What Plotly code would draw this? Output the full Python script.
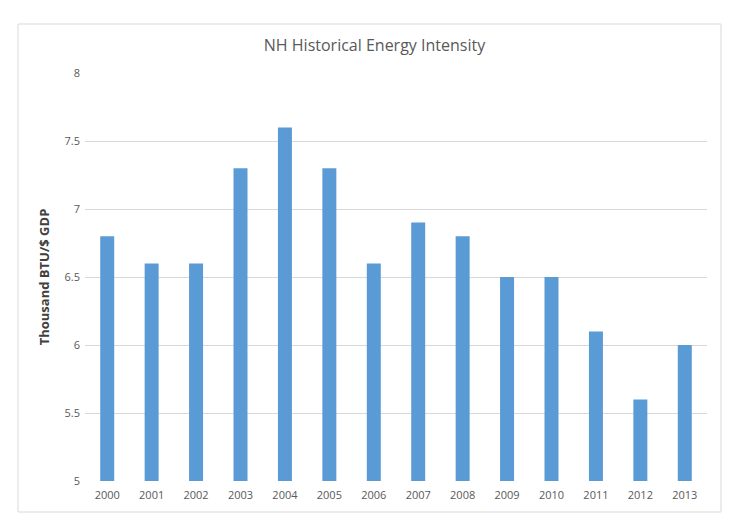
import plotly.graph_objects as go

years = ["2000", "2001", "2002", "2003", "2004", "2005", "2006",
         "2007", "2008", "2009", "2010", "2011", "2012", "2013"]
intensity = [6.8, 6.6, 6.6, 7.3, 7.6, 7.3, 6.6, 6.9, 6.8, 6.5, 6.5, 6.1, 5.6, 6.0]

# page body has an 8px margin, so work in figure coords = window coords - 8
OFF = 8
W, H = 749 - 2 * OFF, 529 - 2 * OFF
L, T = 85 - OFF, 73 - OFF
R = W - (707 - OFF)
B = H - (481 - OFF)
pw, ph = W - L - R, H - T - B

fig = go.Figure()
fig.add_trace(go.Bar(x=years, y=intensity, marker_color="#5B9BD5", marker_line_width=0))

# outer chart border
fig.add_shape(type="rect", xref="paper", yref="paper",
              x0=(18 - 85) / pw, x1=(721 - 85) / pw,
              y0=(481 - 512) / ph, y1=(481 - 24) / ph,
              line=dict(color="#D9D9D9", width=1), fillcolor="rgba(0,0,0,0)", layer="below")

fig.update_layout(
    width=W, height=H,
    margin=dict(l=L, r=R, t=T, b=B),
    paper_bgcolor="white", plot_bgcolor="white",
    bargap=0.685,
    showlegend=False,
    font=dict(family="Open Sans, Arial", color="#595959", size=11),
    title=dict(text="NH Historical Energy Intensity", x=0.5, xanchor="center",
               y=1 - (45 - OFF) / H, yanchor="middle",
               font=dict(size=16, color="#595959")),
)
fig.update_xaxes(showgrid=False, showline=False, ticks="", tickfont=dict(size=11),
                 ticklabelstandoff=6)
fig.update_yaxes(range=[5, 8], dtick=0.5, showgrid=True, gridcolor="#D9D9D9",
                 zeroline=False, showline=False, ticks="", tickfont=dict(size=11),
                 ticklabelstandoff=4,
                 title=dict(text="<b>Thousand BTU/$ GDP</b>", standoff=11,
                            font=dict(size=13, color="#404040")))

fig.write_html("out.html")
